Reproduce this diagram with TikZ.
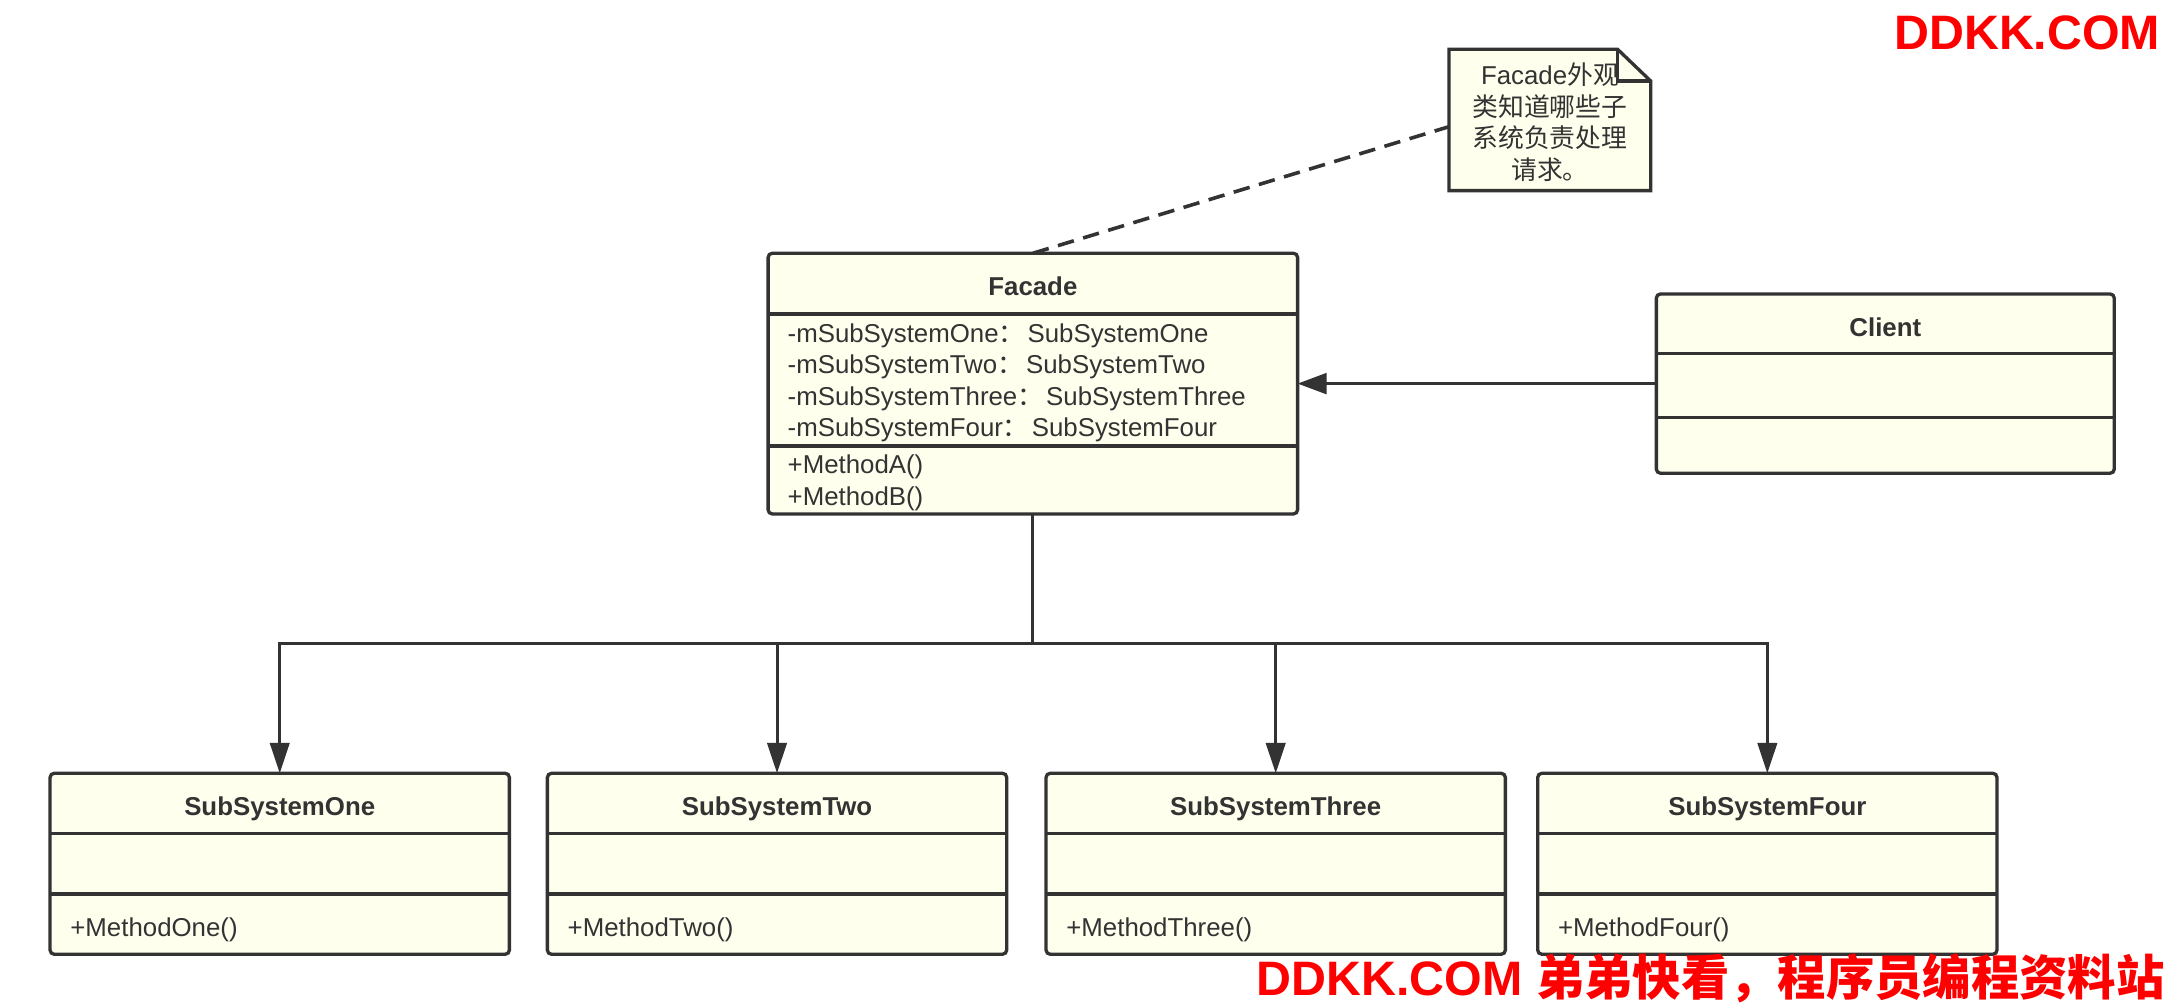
\documentclass[tikz,border=0pt]{standalone}
\usepackage{fontspec}
\setmainfont{Liberation Sans}
\newfontfamily\cjk{Noto Sans CJK SC}
\usetikzlibrary{arrows.meta}
\definecolor{linec}{HTML}{333333}
\definecolor{fillc}{HTML}{FFFFEE}
\definecolor{wm}{HTML}{FF0000}
\newcommand{\ucolon}{{\cjk ：}\hspace{2.2pt}}
\begin{document}
\begin{tikzpicture}[x=1pt,y=-1pt,
  classbox/.style={draw=linec, fill=fillc, line width=2.4pt, rounded corners=3pt, inner sep=0pt, outer sep=0pt},
  sepline/.style={draw=linec, line width=2.4pt},
  notebox/.style={draw=linec, fill=fillc, line width=2.4pt, line join=miter},
  conn/.style={draw=linec, line width=2.2pt},
  txt/.style={font=\fontsize{18.7}{22}\selectfont, text=linec, inner sep=0pt, anchor=base west},
  ttl/.style={font=\fontsize{18.7}{22}\selectfont\bfseries, text=linec, inner sep=0pt, anchor=base},
  ntxt/.style={font=\fontsize{18.7}{22}\selectfont, text=linec, inner sep=0pt, anchor=base},
  wmark/.style={font=\fontsize{35}{40}\selectfont\bfseries, text=wm, inner sep=0pt},
  tipdown/.style={-{Triangle[length=22pt,width=14pt]}},
  tipleft/.style={-{Triangle[length=21pt,width=15pt]}}
]
\useasboundingbox (0,0) rectangle (1568,726.8);

% ---------- Facade ----------
\node[classbox, minimum width=383.3pt, minimum height=188.7pt] (facade) at (747.7,277.7) {};
\draw[sepline] (facade.west |- 0,227.3) -- (facade.east |- 0,227.3);
\draw[sepline] (facade.west |- 0,322.9) -- (facade.east |- 0,322.9);
\node[ttl] (facadet) at (747.7,213.8) {Facade};
\node[txt] (fa1) at (570,247.6) {-mSubSystemOne\ucolon SubSystemOne};
\node[txt] (fa2) at (570,270.5) {-mSubSystemTwo\ucolon SubSystemTwo};
\node[txt] (fa3) at (570,293.5) {-mSubSystemThree\ucolon SubSystemThree};
\node[txt] (fa4) at (570,316.3) {-mSubSystemFour\ucolon SubSystemFour};
\node[txt] (fm1) at (570,342.9) {+MethodA()};
\node[txt] (fm2) at (570,365.8) {+MethodB()};

% ---------- Client ----------
\node[classbox, minimum width=331.5pt, minimum height=129.8pt] (client) at (1364.8,277.7) {};
\draw[sepline] (client.west |- 0,255.8) -- (client.east |- 0,255.8);
\draw[sepline] (client.west |- 0,302.4) -- (client.east |- 0,302.4);
\node[ttl] (clientt) at (1364.8,243.3) {Client};

% ---------- Subsystems ----------
\foreach \nm/\cx/\ttltext/\mtext in {s1/202.5/SubSystemOne/+MethodOne(), s2/562.5/SubSystemTwo/+MethodTwo(), s3/923.5/SubSystemThree/+MethodThree(), s4/1279.4/SubSystemFour/+MethodFour()}{
  \node[classbox, minimum width=332.5pt, minimum height=131pt] (\nm) at (\cx,625.3) {};
  \draw[sepline] (\nm.west |- 0,603.3) -- (\nm.east |- 0,603.3);
  \draw[sepline] (\nm.west |- 0,647.2) -- (\nm.east |- 0,647.2);
  \node[ttl] (\nm t) at (\cx,590.7) {\ttltext};
  \node[txt] (\nm m) at ([xshift=14.5pt]\nm.west |- 0,678.3) {\mtext};
}

% ---------- Note ----------
\node[minimum width=146pt, minimum height=102.3pt, inner sep=0pt, outer sep=0pt] (note) at (1122,86.85) {};
\draw[notebox] (note.north west) -- ([xshift=-24pt]note.north east) -- ([yshift=-23pt]note.north east) -- (note.south east) -- (note.south west) -- cycle;
\draw[notebox, fill=none] ([xshift=-24pt]note.north east) -- ([xshift=-24pt,yshift=-23pt]note.north east) -- ([yshift=-23pt]note.north east);
\node[ntxt] (n1) at (1122,61.2) {Facade{\cjk 外观}};
\node[ntxt] (n2) at (1122,84.2) {\cjk 类知道哪些子};
\node[ntxt] (n3) at (1122,107) {\cjk 系统负责处理};
\node[ntxt] (n4) at (1122,130) {\cjk 请求。};

% ---------- Connectors ----------
\draw[conn, line width=2.6pt, dash pattern=on 12pt off 7pt] (facade.north) -- ([yshift=-4.85pt]note.west);
\draw[conn, tipleft] (client.west) -- (facade.east);
\coordinate (bus) at (747.7,466);
\draw[conn] (facade.south) -- (bus);
\draw[conn, tipdown] (bus) -| (s1.north);
\draw[conn, tipdown] (bus) -| (s2.north);
\draw[conn, tipdown] (bus) -| (s3.north);
\draw[conn, tipdown] (bus) -| (s4.north);

% ---------- Watermarks ----------
\node[wmark, anchor=base east] (wm1) at (1564,36) {DDKK.COM};
\node[wmark, anchor=base west] (wm2) at (909.6,721) {DDKK.COM {\cjk 弟弟快看，程序员编程资料站}};
\end{tikzpicture}
\end{document}
